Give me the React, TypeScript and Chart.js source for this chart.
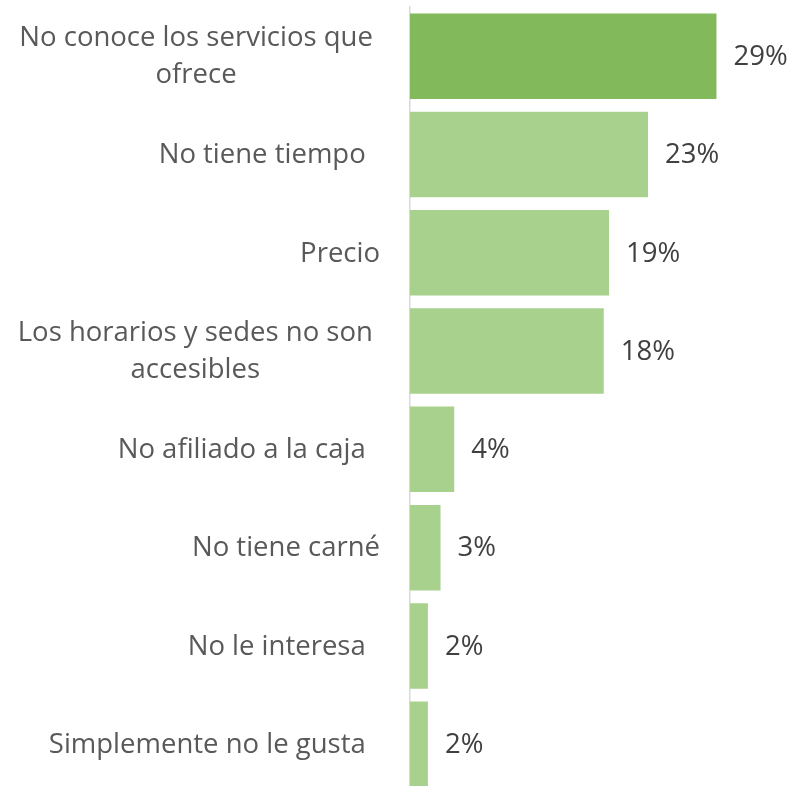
import React, { useEffect, useRef } from "react";
import { Chart, registerables } from "chart.js";

Chart.register(...registerables);

const categories: string[][] = [
  ["No conoce los servicios que ", "ofrece"],
  ["No tiene tiempo  "],
  ["Precio"],
  ["Los horarios y sedes no son ", "accesibles"],
  ["No afiliado a la caja  "],
  ["No tiene carné"],
  ["No le interesa  "],
  ["Simplemente no le gusta  "],
];
const values: number[] = [29.1, 22.6, 18.9, 18.4, 4.2, 2.9, 1.7, 1.7];
const barColors: string[] = ["#82BA5B", "#A9D18E", "#A9D18E", "#A9D18E", "#A9D18E", "#A9D18E", "#A9D18E", "#A9D18E"];

const FONT = "'Open Sans', 'DejaVu Sans', sans-serif";

const labelPlugin = {
  id: "customLabels",
  afterDraw(chart: any) {
    const ctx = chart.ctx as CanvasRenderingContext2D;
    const yScale = chart.scales.y;
    const meta = chart.getDatasetMeta(0);
    ctx.save();
    // category labels
    ctx.font = `27.5px ${FONT}`;
    ctx.fillStyle = "#595959";
    ctx.textBaseline = "middle";
    ctx.textAlign = "center";
    const rightEdge = yScale.right - 30;
    const lineH = 37;
    categories.forEach((lines, i) => {
      const cy = yScale.getPixelForValue(i) + 1;
      const full = lines.map((l) => ctx.measureText(l).width);
      const vis = lines.map((l) => ctx.measureText(l.trimEnd()).width);
      let widest = 0;
      full.forEach((w, j) => {
        if (w > full[widest]) widest = j;
      });
      const visRight = rightEdge - (full[widest] - vis[widest]);
      const cx = visRight - vis[widest] / 2;
      const startY = cy - ((lines.length - 1) * lineH) / 2;
      lines.forEach((l, j) => {
        ctx.fillText(l.trimEnd(), cx, startY + j * lineH);
      });
    });
    // value labels
    ctx.fillStyle = "#404040";
    ctx.textAlign = "left";
    meta.data.forEach((bar: any, i: number) => {
      ctx.fillText(`${Math.round(values[i])}%`, bar.x + 17, bar.y + 1);
    });
    ctx.restore();
  },
};

export default function App() {
  const ref = useRef<HTMLCanvasElement | null>(null);
  useEffect(() => {
    document.body.style.margin = "0";
    if (!ref.current) return;
    const chart = new Chart(ref.current, {
      type: "bar",
      data: {
        labels: categories.map((c) => c.join(" ")),
        datasets: [
          {
            data: values,
            backgroundColor: barColors,
            borderWidth: 0,
            categoryPercentage: 1,
            barPercentage: 0.87,
          },
        ],
      },
      options: {
        indexAxis: "y",
        animation: false,
        responsive: false,
        maintainAspectRatio: false,
        layout: { padding: { top: 7, bottom: 6.6, left: 0, right: 11.4 } },
        plugins: { legend: { display: false }, tooltip: { enabled: false } },
        scales: {
          x: { display: false, min: 0, max: 35 },
          y: {
            grid: { display: false },
            border: { display: true, color: "#D9D9D9", width: 1.5 },
            ticks: { display: false },
            afterFit(scale: any) {
              scale.width = 410;
            },
          },
        },
      },
      plugins: [labelPlugin],
    });
    return () => chart.destroy();
  }, []);
  return (
    <div style={{ width: 790, height: 786, overflow: "hidden" }}>
      <canvas ref={ref} width={790} height={800} style={{ width: 790, height: 800, display: "block" }} />
    </div>
  );
}
